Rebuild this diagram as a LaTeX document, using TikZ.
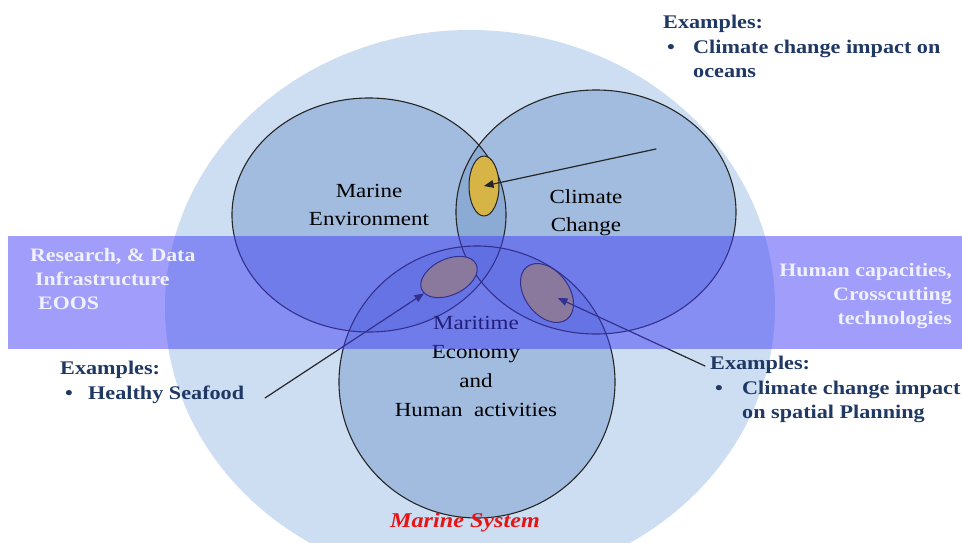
\documentclass[tikz,border=0pt]{standalone}
\usepackage{fontspec}
\setmainfont{Liberation Serif}[FakeStretch=1.15]
\usepackage{tikz}
\usetikzlibrary{arrows,shapes.geometric}
\definecolor{seaback}{RGB}{205,222,242}
\definecolor{seafill}{RGB}{118,155,203}
\definecolor{bandblue}{RGB}{65,61,245}
\definecolor{spotgold}{RGB}{215,180,70}
\definecolor{exnavy}{RGB}{31,56,100}
\definecolor{bandtext}{RGB}{240,240,255}
\definecolor{sysred}{RGB}{230,20,20}
\tikzset{
  venn/.style={fill=seafill,fill opacity=0.5},
  vennline/.style={draw=black!85,line width=1.1pt},
  spot/.style={ellipse,draw=black!85,line width=1pt,fill=spotgold,inner sep=0pt},
  lbl/.style={align=center,inner sep=0pt,font=\fontsize{20}{28}\selectfont},
  examples/.style={align=left,anchor=north west,inner sep=0pt,text=exnavy,font=\fontsize{19.3}{24.5}\selectfont\bfseries},
  bandlbl/.style={inner sep=0pt,text=bandtext,font=\fontsize{19}{24}\selectfont\bfseries},
  pointer/.style={->,draw=black!85,line width=1.2pt}
}
\begin{document}
\begin{tikzpicture}[line cap=round,line join=round,>=triangle 45,x=1pt,y=1pt]
        \useasboundingbox (0,0) rectangle (962,542);
        \clip (0,0) rectangle (962,542);
        \fill[seaback] (470,235) ellipse [x radius=305,y radius=277];
        \fill[venn] (369,327) ellipse [x radius=137,y radius=117];
        \fill[venn] (596,330) ellipse [x radius=140,y radius=122];
        \fill[venn] (477,160) ellipse [x radius=138,y radius=136];
        \draw[vennline] (369,327) ellipse [x radius=137,y radius=117];
        \draw[vennline] (596,330) ellipse [x radius=140,y radius=122];
        \draw[vennline] (477,160) ellipse [x radius=138,y radius=136];
        \node[spot,minimum width=30pt,minimum height=60pt] (spotY) at (484,356) {};
        \node[spot,rotate=25,minimum width=60pt,minimum height=36pt] (spotL) at (449,265) {};
        \node[spot,rotate=-53,minimum width=66pt,minimum height=44pt] (spotR) at (547,249) {};
        \node[lbl] (meLbl) at (369,337) {Marine\\Environment};
        \node[lbl] (ccLbl) at (586,329) {Climate\\Change};
        \node[lbl,font=\fontsize{20}{29}\selectfont] (maLbl) at (476,176) {Maritime\\Economy\\and\\Human\ \ activities};
        \coordinate (oceansTail) at (656,393);
        \coordinate (seafoodTail) at (265,144);
        \coordinate (planningTail) at (705,176);
        \draw[pointer] (oceansTail) -- (spotY.center);
        \draw[pointer] (seafoodTail) -- (spotL);
        \draw[pointer,shorten >=12pt] (planningTail) -- (spotR.center);
        \fill[bandblue,fill opacity=0.5] (8,193) rectangle (962,306);
        \node[bandlbl,anchor=north west,align=left] (researchLbl) at (30,294) {Research, \& Data\\\hspace*{5pt}Infrastructure\\\hspace*{8pt}EOOS};
        \node[bandlbl,anchor=north east,align=right] (capacityLbl) at (952,279) {Human capacities,\\Crosscutting\\technologies};
        \node[examples] (oceansEx) at (663,527) {Examples:\\\makebox[30pt][l]{\hspace{4pt}•}Climate change impact on\\\hspace*{30pt}oceans};
        \node[examples] (seafoodEx) at (60,181) {Examples:\\\makebox[28pt][l]{\hspace{5pt}•}Healthy Seafood};
        \node[examples] (planningEx) at (710,186) {Examples:\\\makebox[32pt][l]{\hspace{5pt}•}Climate change impact\\\hspace*{32pt}on spatial Planning};
        \node[font=\fontsize{21}{25}\selectfont\bfseries\itshape,text=sysred] (sysLbl) at (465,20) {Marine System};
    \end{tikzpicture}
\end{document}
